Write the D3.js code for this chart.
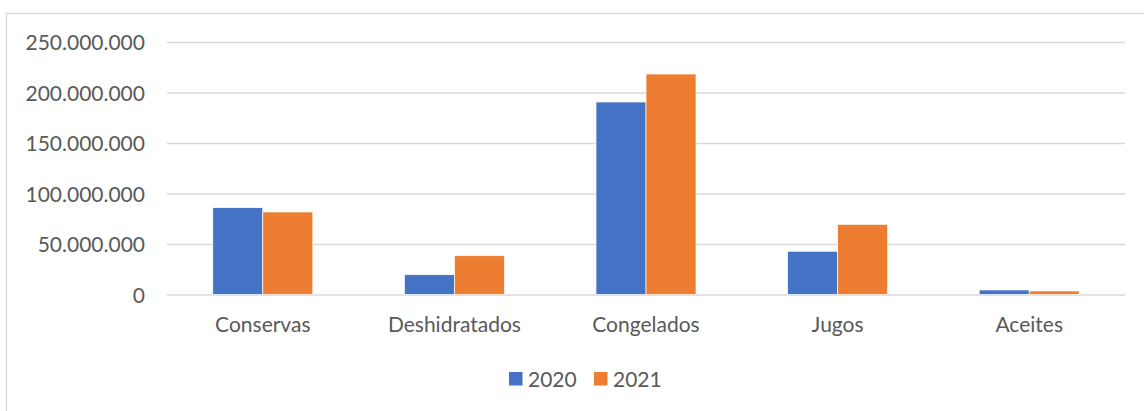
<!DOCTYPE html>
<html>
<head>
<meta charset="utf-8">
<script src="https://cdn.jsdelivr.net/npm/d3@7"></script>
<style>
  body { margin: 0; background: #fff; }
  svg text { font-family: Lato, "Open Sans", sans-serif; fill: #595959; }
</style>
</head>
<body>
<div id="chart"></div>
<script>
//Datos
const categorias = ['Conservas', 'Deshidratados', 'Congelados', 'Jugos', 'Aceites'];
const series = ['2020', '2021'];
const valores2020 = [86000000, 19600000, 190600000, 42800000, 4500000];
const valores2021 = [81700000, 38400000, 218300000, 69500000, 3500000];
const ticks = [0, 50000000, 100000000, 150000000, 200000000, 250000000];

//Colores fijos
const COLOR_2020 = '#4472C4',
COLOR_2021 = '#ED7D31',
COLOR_GRID = '#D9D9D9';

let data = categorias.map(function(c, i) {
    return { cat: c, values: [valores2020[i], valores2021[i]] };
});

let width = 1144, height = 411;
let margin = {top: 42, right: 19, bottom: 116.5, left: 167};

let svg = d3.select('#chart')
    .append('svg')
    .attr('width', width)
    .attr('height', height);

//Borde del gráfico
svg.append('rect')
    .attr('x', 6.5)
    .attr('y', 13.5)
    .attr('width', width)
    .attr('height', height)
    .attr('fill', 'none')
    .attr('stroke', COLOR_GRID)
    .attr('stroke-width', 1.3);

let x = d3.scaleBand()
    .domain(categorias)
    .range([margin.left, width - margin.right])
    .paddingInner(0.478)
    .paddingOuter(0.239);

let x1 = d3.scaleBand()
    .domain(series)
    .range([0, x.bandwidth()]);

let y = d3.scaleLinear()
    .domain([0, 250000000])
    .range([height - margin.bottom, margin.top]);

let fmt = function(d) {
    return d3.format(',')(d).replace(/,/g, '.');
};

//Eje Y con líneas de rejilla
let yAxis = function(g) {
    g.call(d3.axisLeft(y).tickValues(ticks).tickFormat(fmt).tickSize(-(width - margin.left - margin.right)).tickPadding(22));
    g.select('.domain').remove();
    g.selectAll('.tick line').attr('stroke', COLOR_GRID).attr('stroke-width', 1.3);
    g.selectAll('.tick text').attr('font-size', '21px').attr('dy', '0.36em');
}

svg.append('g')
    .attr('transform', 'translate(' + margin.left + ',0)')
    .call(yAxis);

//Barras
let grupos = svg.selectAll('.grupo')
    .data(data)
    .enter()
    .append('g')
    .attr('class', 'grupo')
    .attr('transform', function(d) { return 'translate(' + x(d.cat) + ',0)'; });

grupos.selectAll('rect')
    .data(function(d) { return d.values.map(function(v, i) { return { serie: series[i], value: v }; }); })
    .enter()
    .append('rect')
    .attr('x', function(d) { return x1(d.serie); })
    .attr('y', function(d) { return y(d.value); })
    .attr('width', x1.bandwidth())
    .attr('height', function(d) { return y(0) - y(d.value); })
    .attr('fill', function(d) { return d.serie == '2020' ? COLOR_2020 : COLOR_2021; })
    .attr('stroke', '#fff')
    .attr('stroke-width', 0.7);

//Eje X
let xAxis = function(g) {
    g.call(d3.axisBottom(x).tickSize(0).tickPadding(23));
    g.select('.domain').remove();
    g.selectAll('.tick text').attr('font-size', '21px');
}

svg.append('g')
    .attr('transform', 'translate(0,' + y(0) + ')')
    .call(xAxis);

//Leyenda
let leyenda = svg.append('g')
    .attr('transform', 'translate(509,372)');

let items = leyenda.selectAll('.item')
    .data(series)
    .enter()
    .append('g')
    .attr('class', 'item')
    .attr('transform', function(d, i) { return 'translate(' + (i * 85) + ',0)'; });

items.append('rect')
    .attr('width', 13.5)
    .attr('height', 13.5)
    .attr('fill', function(d) { return d == '2020' ? COLOR_2020 : COLOR_2021; });

items.append('text')
    .attr('x', 19)
    .attr('y', 7)
    .attr('dy', '0.36em')
    .attr('font-size', '21px')
    .text(function(d) { return d; });
</script>
</body>
</html>
